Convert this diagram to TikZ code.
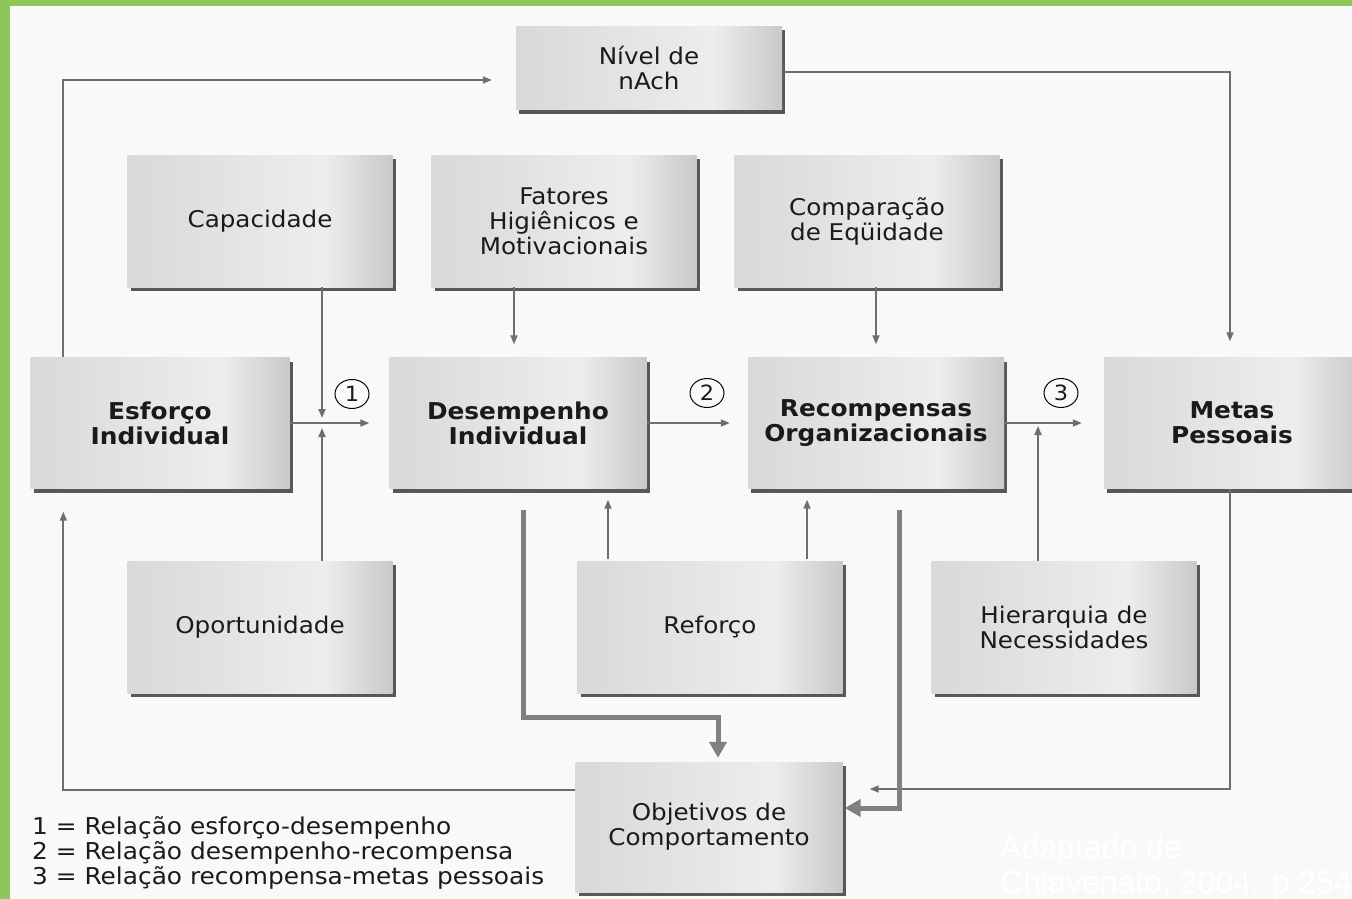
\documentclass[tikz,border=0pt]{standalone}
\usepackage{fontspec}
\setmainfont{DejaVu Sans}[FakeStretch=1.07]
\newfontfamily\wmfont{Liberation Sans}
\usetikzlibrary{shadows,shapes.geometric,arrows.meta}
\definecolor{bggray}{HTML}{F9F9F9}
\definecolor{frame}{RGB}{141,198,89}
\definecolor{txt}{HTML}{1A1A1A}
\definecolor{lnc}{HTML}{6E6E6E}
\definecolor{thk}{HTML}{808080}
\pgfdeclarehorizontalshading{boxsh}{100bp}{color(0bp)=(black!20); color(30bp)=(black!14); color(62bp)=(black!7); color(85bp)=(black!32); color(100bp)=(black!55)}
\tikzset{
  bx/.style={rectangle, inner sep=0pt, shading=boxsh, text=txt, align=center,
    font=\fontsize{23}{25}\selectfont,
    drop shadow={shadow xshift=3pt, shadow yshift=-4pt, fill=black!72, opacity=0.9}},
  bxw/.style={bx, minimum width=265pt, minimum height=132pt},
  bold/.style={font=\fontsize{23.2}{25}\selectfont\bfseries},
  ln/.style={draw=lnc, line width=1.7pt, -{Triangle[length=9pt,width=7pt]}},
  thick/.style={draw=thk, line width=5pt, -{Triangle[length=16pt,width=17pt]}},
  num/.style={ellipse, draw=black, line width=1pt, minimum width=34pt, minimum height=29pt, inner sep=0pt, font=\fontsize{21}{21}\selectfont, text=txt},
  leg/.style={anchor=base west, inner sep=0pt, text=txt, font=\fontsize{23.2}{25}\selectfont},
  wm/.style={anchor=base west, inner sep=0pt, text=white, font=\wmfont\fontsize{32}{34}\selectfont}
}
\begin{document}
\begin{tikzpicture}[x=1pt,y=-1pt]
\useasboundingbox (0,0) rectangle (1352,899);
\fill[bggray] (0,0) rectangle (1352,899);
\fill[frame] (0,0) rectangle (1352,6);
\fill[frame] (0,0) rectangle (10,899);

% boxes
\node[bx, minimum width=266pt, minimum height=83pt] (niv) at (649,68) {Nível de\\nAch};
\node[bxw] (cap) at (260,221) {Capacidade};
\node[bxw] (fat) at (564,221) {Fatores\\Higiênicos e\\Motivacionais};
\node[bxw] (comp) at (867,221) {Comparação\\de Eqüidade};
\node[bx, bold, minimum width=259pt, minimum height=131pt] (esf) at (160,423) {Esforço\\Individual};
\node[bx, bold, minimum width=257pt, minimum height=131pt] (des) at (518,423) {Desempenho\\Individual};
\node[bx, bold, minimum width=256pt, minimum height=131pt] (rec) at (876,423) {Recompensas\\Organizacionais};
\node[bx, bold, minimum width=256pt, minimum height=131pt] (met) at (1232,423) {Metas\\Pessoais};
\node[bxw] (opo) at (260,627) {Oportunidade};
\node[bxw] (ref) at (710,627) {Reforço};
\node[bxw] (hie) at (1064,627) {Hierarquia de\\Necessidades};
\node[bx, minimum width=267pt, minimum height=130pt] (obj) at (709,827) {Objetivos de\\Comportamento};

% numbered circles
\node[num] (n1) at (352,394) {1};
\node[num] (n2) at (707,393) {2};
\node[num] (n3) at (1061,393) {3};

% junction
\coordinate (j1) at (322,423);

% thin connectors
\draw[ln] ([xshift=33pt]esf.north west) |- ([shift={(-24,12)}]niv.west);
\draw[ln] ([shift={(0,4)}]niv.east) -| ([shift={(-2,-16)}]met.north);
\draw[ln] (cap.south -| j1) -- ([shift={(0,-5)}]j1);
\draw[ln] (opo.north -| j1) -- ([shift={(0,5)}]j1);
\draw[ln, shorten >=20pt] (esf.east) -- (des.west);
\draw[ln, shorten >=18pt] (des.east) -- (rec.west);
\draw[ln, shorten >=22pt] (rec.east) -- (met.west);
\draw[ln, shorten >=13pt] ([xshift=-50pt]fat.south) -- ([xshift=-50pt]fat.south |- des.north);
\draw[ln, shorten >=13pt] (comp.south -| rec.north) -- (rec.north);
\draw[ln, shorten >=3pt] ([xshift=-26pt]hie.north) -- ([xshift=-26pt]hie.north |- rec.east);
\draw[ln, shorten >=11pt] ([shift={(-102,-2)}]ref.north) -- ([xshift=-102pt]ref.north |- des.south);
\draw[ln, shorten >=11pt] ([shift={(97,-2)}]ref.north) -- ([xshift=97pt]ref.north |- rec.south);
\draw[ln] ([xshift=-2pt]met.south) |- ([shift={(27,-38)}]obj.east);
\draw[ln] ([shift={(0,-37)}]obj.west) -| ([shift={(33,23)}]esf.south west);

% thick connectors
\draw[thick] ([shift={(5,21)}]des.south) -- ++(0,208) -| ([shift={(9,-4)}]obj.north);
\draw[thick] ([shift={(23,21)}]rec.south) |- ([shift={(2,-19)}]obj.east);

% legend
\node[leg] (l1) at (32,834) {1 = Relação esforço-desempenho};
\node[leg] (l2) at (32,859) {2 = Relação desempenho-recompensa};
\node[leg] (l3) at (32,884) {3 = Relação recompensa-metas pessoais};

% watermark
\node[wm] (w1) at (1000,858) {Adaptado de:};
\node[wm] (w2) at (1000,893) {Chiavenato, 2004. p.254};
\end{tikzpicture}
\end{document}
